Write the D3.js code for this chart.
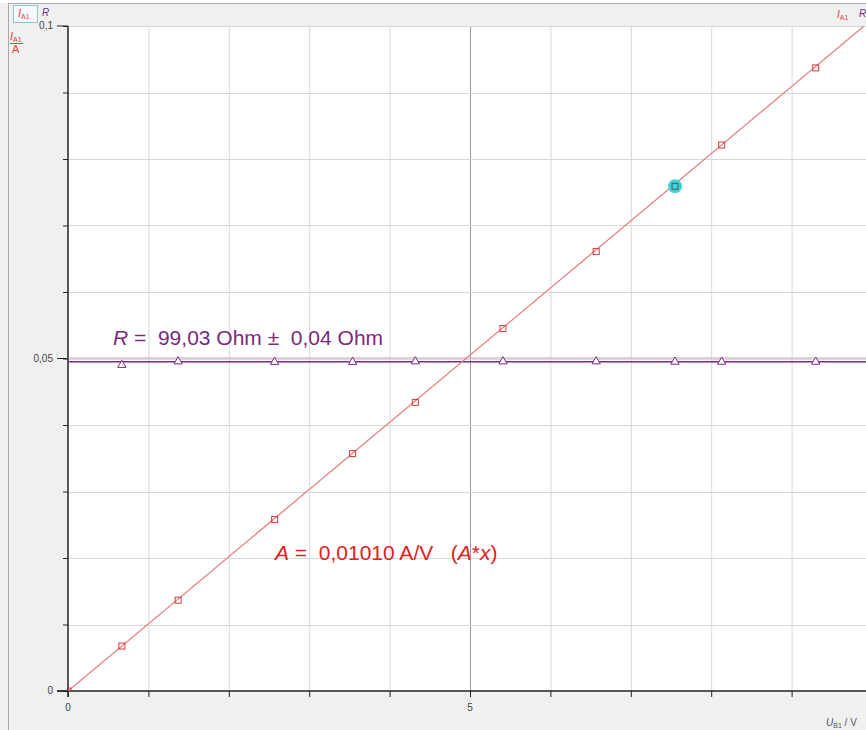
<!DOCTYPE html>
<html>
<head>
<meta charset="utf-8">
<script src="https://cdn.jsdelivr.net/npm/d3@7"></script>
<style>
  body { margin: 0; background: #fff; }
  svg { display: block; font-family: "Liberation Sans", Arial, sans-serif; }
  svg text { white-space: pre; }
</style>
</head>
<body>
<div id="chart"></div>
<script>
// measured values: U_B1 in V, I_A1 in A, R in Ohm
const voltage = [0.67, 1.37, 2.57, 3.54, 4.32, 5.41, 6.57, 7.55, 8.13, 9.30];
const current = [0.00676, 0.01366, 0.0258, 0.0357, 0.0434, 0.0545, 0.0661, 0.0759, 0.0821, 0.0937];
const resistance = [98.05, 99.1, 98.95, 98.95, 99.1, 99.1, 99.1, 99.0, 99.0, 99.0];
const fitSlope = 0.01010;
const fitR = 99.03;
const highlightIndex = 7;
const xTicks = [0, 5, 10];
const yTicks = [0, 0.05, 0.1];
const xTickLabels = ["0", "5", "10"];
const yTickLabels = ["0", "0,05", "0,1"];

const width = 866;
const height = 730;
const margin = { top: 26, left: 68, bottom: 39, right: -6 };

const red = "#e0403c";
const purple = "#7a2a7e";

const xScale = d3.scaleLinear().domain([0, 10]).range([margin.left, width - margin.right]);
const yScale = d3.scaleLinear().domain([0, 0.1]).range([height - margin.bottom, margin.top]);
const rScale = d3.scaleLinear().domain([0, 200]).range([height - margin.bottom, margin.top]);

const svg = d3.select("#chart").append("svg").attr("width", width).attr("height", height);

// window frame
svg.append("rect").attr("x", 0).attr("y", 3).attr("width", width).attr("height", height)
    .attr("fill", "#f0f0f0");
svg.append("line").attr("x1", 8).attr("x2", width).attr("y1", 3.5).attr("y2", 3.5)
    .attr("stroke", "#a8a8a8");
svg.append("line").attr("x1", 8.5).attr("x2", 8.5).attr("y1", 3).attr("y2", height)
    .attr("stroke", "#a8a8a8");

// plot area
svg.append("rect")
    .attr("x", margin.left).attr("y", margin.top)
    .attr("width", width - margin.left).attr("height", yScale(0) - margin.top)
    .attr("fill", "#fff");

svg.append("defs").append("clipPath").attr("id", "plotClip")
    .append("rect")
    .attr("x", margin.left).attr("y", margin.top)
    .attr("width", width - margin.left).attr("height", yScale(0) - margin.top);

// grid
const grid = svg.append("g");
grid.selectAll(".gx").data(d3.range(1, 11)).join("line")
    .attr("x1", d => xScale(d) + 0.5).attr("x2", d => xScale(d) + 0.5)
    .attr("y1", margin.top).attr("y2", yScale(0))
    .attr("stroke", d => d === 5 ? "#9a9a9a" : "#d8d8d8");
grid.selectAll(".gy").data(d3.range(1, 11).map(d => d / 100)).join("line")
    .attr("x1", margin.left).attr("x2", width)
    .attr("y1", d => Math.round(yScale(d)) + 0.5).attr("y2", d => Math.round(yScale(d)) + 0.5)
    .attr("stroke", "#d8d8d8");

// axes
const xAxis = d3.axisBottom(xScale).tickValues(d3.range(0, 11)).tickSize(6).tickFormat("");
const yAxis = d3.axisLeft(yScale).tickValues(d3.range(0, 11).map(d => d / 100)).tickSize(5).tickFormat("");

svg.append("g").attr("transform", `translate(0,${yScale(0)})`).call(xAxis)
    .call(g => g.select(".domain").remove())
    .call(g => g.selectAll("line").attr("stroke", "#222"));
svg.append("g").attr("transform", `translate(${margin.left},0)`).call(yAxis)
    .call(g => g.select(".domain").remove())
    .call(g => g.selectAll("line").attr("stroke", "#222"));

// major y ticks are longer
svg.selectAll(".majorY").data(yTicks).join("line")
    .attr("x1", margin.left - 11).attr("x2", margin.left)
    .attr("y1", d => yScale(d)).attr("y2", d => yScale(d))
    .attr("stroke", "#222");

svg.append("line").attr("x1", margin.left - 11).attr("x2", width)
    .attr("y1", yScale(0)).attr("y2", yScale(0)).attr("stroke", "#222").attr("stroke-width", 1.5);
svg.append("line").attr("x1", margin.left).attr("x2", margin.left)
    .attr("y1", margin.top).attr("y2", yScale(0) + 6).attr("stroke", "#222").attr("stroke-width", 1.5);

svg.selectAll(".xl").data(xTicks).join("text")
    .attr("x", d => xScale(d)).attr("y", yScale(0) + 20)
    .attr("text-anchor", "middle").attr("font-size", 10).attr("fill", "#444")
    .text((d, i) => xTickLabels[i]);
svg.selectAll(".yl").data(yTicks).join("text")
    .attr("x", margin.left - 15).attr("y", d => yScale(d) + 3)
    .attr("text-anchor", "end").attr("font-size", 10).attr("fill", "#444")
    .text((d, i) => yTickLabels[i]);

// x axis title
const xt = svg.append("text").attr("x", 826).attr("y", 726).attr("font-size", 10).attr("fill", "#555");
xt.append("tspan").attr("font-style", "italic").text("U");
xt.append("tspan").attr("font-size", 7).attr("dy", 2).text("B1");
xt.append("tspan").attr("dy", -2).text(" / V");

// y axis title (fraction)
const yt = svg.append("text").attr("x", 10).attr("y", 40).attr("font-size", 11).attr("fill", red);
yt.append("tspan").attr("font-style", "italic").text("I");
yt.append("tspan").attr("font-size", 7).attr("dy", 2).text("A1");
svg.append("line").attr("x1", 10).attr("x2", 23).attr("y1", 43.5).attr("y2", 43.5).attr("stroke", red);
svg.append("text").attr("x", 12).attr("y", 53).attr("font-size", 11).attr("fill", red).text("A");

// header legend
svg.append("text").attr("x", 10).attr("y", 20).attr("font-size", 9).attr("fill", "#999")
    .text("⋮");
svg.append("rect").attr("x", 13.5).attr("y", 5.5).attr("width", 24).attr("height", 17)
    .attr("fill", "#f6fafc").attr("stroke", "#8fc3d6");
const h1 = svg.append("text").attr("x", 18).attr("y", 17).attr("font-size", 11).attr("fill", red);
h1.append("tspan").attr("font-style", "italic").text("I");
h1.append("tspan").attr("font-size", 7).attr("dy", 2).text("A1");
svg.append("text").attr("x", 42).attr("y", 16).attr("font-size", 10).attr("font-style", "italic")
    .attr("fill", purple).text("R");

const h2 = svg.append("text").attr("x", 837).attr("y", 18).attr("font-size", 10).attr("fill", red);
h2.append("tspan").attr("font-style", "italic").text("I");
h2.append("tspan").attr("font-size", 7).attr("dy", 2).text("A1");
svg.append("text").attr("x", 859).attr("y", 17).attr("font-size", 10).attr("font-style", "italic")
    .attr("fill", purple).text("R");

// plotted data
const plot = svg.append("g").attr("clip-path", "url(#plotClip)");

// R fit lines
plot.append("line").attr("x1", margin.left).attr("x2", width)
    .attr("y1", rScale(100) - 0.5).attr("y2", rScale(100) - 0.5)
    .attr("stroke", "#c49ac6").attr("stroke-width", 1);
plot.append("line").attr("x1", margin.left).attr("x2", width)
    .attr("y1", rScale(fitR)).attr("y2", rScale(fitR))
    .attr("stroke", purple).attr("stroke-width", 1.4);

// A*x fit line
plot.append("line")
    .attr("x1", xScale(0)).attr("y1", yScale(0))
    .attr("x2", xScale(10)).attr("y2", yScale(fitSlope * 10))
    .attr("stroke", "#e27a78").attr("stroke-width", 1.2);

// highlighted point
plot.append("circle")
    .attr("cx", xScale(voltage[highlightIndex])).attr("cy", yScale(current[highlightIndex]))
    .attr("r", 7).attr("fill", "#3fd3df");

// triangles for R
const tri = d3.symbol().type(d3.symbolTriangle).size(30);
plot.selectAll(".tri").data(voltage).join("path")
    .attr("d", tri)
    .attr("transform", (d, i) => `translate(${xScale(d)},${rScale(resistance[i])})`)
    .attr("fill", "#fff").attr("stroke", purple).attr("stroke-width", 1);

// squares for I_A1
plot.selectAll(".sq").data(voltage).join("rect")
    .attr("x", d => xScale(d) - 3).attr("y", (d, i) => yScale(current[i]) - 3)
    .attr("width", 6).attr("height", 6)
    .attr("fill", "none")
    .attr("stroke", (d, i) => i === highlightIndex ? "#555" : "#d43a3a").attr("stroke-width", 1);

// square at origin
plot.append("rect").attr("x", xScale(0) - 3).attr("y", yScale(0) - 3)
    .attr("width", 6).attr("height", 6).attr("fill", "none").attr("stroke", "#d43a3a");

// annotations
const rText = svg.append("text").attr("x", 113).attr("y", 345).attr("font-size", 21).attr("fill", purple);
rText.append("tspan").attr("font-style", "italic").text("R");
rText.append("tspan").text(" =  99,03 Ohm ±  0,04 Ohm");

const aText = svg.append("text").attr("x", 275).attr("y", 560).attr("font-size", 21).attr("fill", "#e0201c");
aText.append("tspan").attr("font-style", "italic").text("A");
aText.append("tspan").text(" =  0,01010 A/V   (");
aText.append("tspan").attr("font-style", "italic").text("A");
aText.append("tspan").text("*");
aText.append("tspan").attr("font-style", "italic").text("x");
aText.append("tspan").text(")");
</script>
</body>
</html>
